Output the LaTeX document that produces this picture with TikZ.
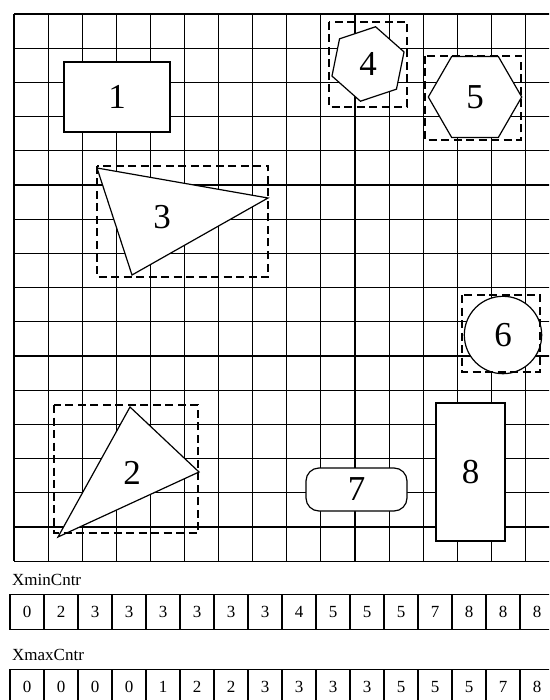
\documentclass[tikz,border=0pt]{standalone}
\usepackage{fontspec}
\setmainfont{Liberation Serif}
\usetikzlibrary{shapes.geometric}
\tikzset{
  gridline/.style={line width=1.1pt},
  outline/.style={draw, fill=white, line width=1.2pt},
  figure/.style={outline, inner sep=0pt, outer sep=0pt, font=\fontsize{35}{40}\selectfont},
  tag/.style={inner sep=0pt, font=\fontsize{35}{40}\selectfont},
  hull/.style={line width=1.1pt, dash pattern=on 8pt off 4.5pt},
  cell/.style={draw, line width=1.1pt, minimum width=34pt, minimum height=35pt, inner sep=0pt, font=\fontsize{17}{20}\selectfont},
  caption/.style={anchor=base west, inner sep=0pt, font=\fontsize{17}{20}\selectfont}
}
\begin{document}
\begin{tikzpicture}[x=1pt, y=-1pt]
\useasboundingbox (0,0) rectangle (549,700);
\clip (0,0) rectangle (549,700);
\fill[white] (0,0) rectangle (549,700);
% grid
\foreach \k in {0,...,16} {
  \draw[gridline] ({14+34.1*\k},14) -- ({14+34.1*\k},561.2);
  \draw[gridline] (14,{14+34.2*\k}) -- (559.6,{14+34.2*\k});
}
% shapes
\node[figure, minimum width=106pt, minimum height=70pt] (rect1) at (117,97) {1};

\coordinate (t3a) at (97,168);
\coordinate (t3b) at (268,198);
\coordinate (t3c) at (132,275);
\draw[outline] (t3a) -- (t3b) -- (t3c) -- cycle;
\node[tag] (tri3) at (162,217) {3};
\draw[hull] (97,166) rectangle (268,277);

\node[figure, regular polygon, regular polygon sides=6, regular polygon rotate=18.5, minimum size=76pt] (hex4) at (368,64) {4};
\draw[hull] (329,22) rectangle (407,107);

\node[figure, regular polygon, regular polygon sides=6, minimum size=93.4pt] (hex5) at (475,97) {5};
\draw[hull] (425,56) rectangle (521,140);

\node[figure, circle, minimum size=77.4pt] (circ6) at (503,335) {6};
\draw[hull] (462,295) rectangle (540,372);

\node[figure, rounded corners=13pt, minimum width=101pt, minimum height=43pt] (pill7) at (356.5,489.5) {7};

\node[figure, minimum width=69pt, minimum height=138pt] (rect8) at (470.5,472) {8};

\coordinate (t2a) at (130,407);
\coordinate (t2b) at (199,472);
\coordinate (t2c) at (58,537);
\draw[outline] (t2a) -- (t2b) -- (t2c) -- cycle;
\node[tag] (tri2) at (132,473) {2};
\draw[hull] (54,405) rectangle (198,533);

% counter tables
\node[caption] (minlabel) at (12,585) {XminCntr};
\foreach \v [count=\i] in {0,2,3,3,3,3,3,3,4,5,5,5,7,8,8,8}
  \node[cell] (min\i) at ({27+34*(\i-1)},611.8) {\v};
\node[caption] (maxlabel) at (12,660) {XmaxCntr};
\foreach \v [count=\i] in {0,0,0,0,1,2,2,3,3,3,3,5,5,5,7,8}
  \node[cell] (max\i) at ({27+34*(\i-1)},686.8) {\v};
\end{tikzpicture}
\end{document}
